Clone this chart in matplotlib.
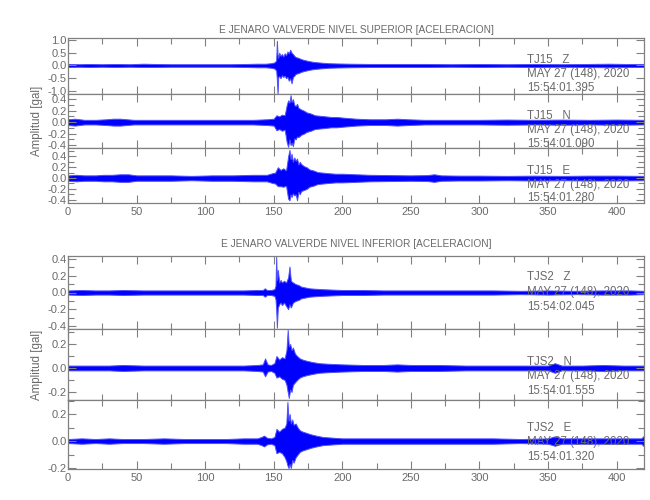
import matplotlib
matplotlib.use("Agg")
import matplotlib.pyplot as plt
from matplotlib.ticker import MultipleLocator, FormatStrFormatter

plt.rcParams['font.family'] = ['Liberation Sans', 'DejaVu Sans']

# ---------------- data (envelopes) ----------------
titles = ["E JENARO VALVERDE NIVEL SUPERIOR [ACELERACION]",
          "E JENARO VALVERDE NIVEL INFERIOR [ACELERACION]"]
stations = ["TJ15   Z", "TJ15   N", "TJ15   E", "TJS2   Z", "TJS2   N", "TJS2   E"]
date_label = "MAY 27 (148), 2020"
start_times = ["15:54:01.395", "15:54:01.090", "15:54:01.280",
               "15:54:02.045", "15:54:01.555", "15:54:01.320"]
xticks = [0, 50, 100, 150, 200, 250, 300, 350, 400]

t_tj15z = [0, 8, 15, 25, 35, 45, 55, 62, 75, 90, 105, 118, 130, 138, 144, 148, 150.5, 151.8, 152.3, 152.8,
           153.3, 154, 155, 156, 157, 158, 159, 160, 161, 162, 163, 164, 165, 166, 168, 170, 172, 175, 178, 181,
           185, 190, 196, 205, 220, 240, 260, 280, 300, 320, 340, 360, 380, 395, 405, 420]
up_tj15z = [0.06, 0.05, 0.06, 0.05, 0.06, 0.05, 0.07, 0.06, 0.05, 0.05, 0.05, 0.05, 0.06, 0.07, 0.07, 0.09, 0.12, 0.20, 0.97, 0.45,
            0.30, 0.50, 0.38, 0.45, 0.35, 0.48, 0.40, 0.55, 0.48, 0.62, 0.50, 0.45, 0.38, 0.33, 0.30, 0.25, 0.22, 0.18, 0.15, 0.13,
            0.11, 0.09, 0.08, 0.07, 0.06, 0.06, 0.06, 0.05, 0.06, 0.05, 0.06, 0.05, 0.06, 0.07, 0.06, 0.06]
lo_tj15z = [-0.06, -0.05, -0.06, -0.05, -0.06, -0.05, -0.06, -0.06, -0.05, -0.05, -0.05, -0.05, -0.06, -0.07, -0.07, -0.09, -0.12, -0.20, -0.55, -1.12,
            -0.45, -0.42, -0.50, -0.38, -0.45, -0.40, -0.50, -0.45, -0.60, -0.50, -0.70, -0.45, -0.40, -0.33, -0.30, -0.25, -0.22, -0.18, -0.15, -0.13,
            -0.11, -0.09, -0.08, -0.07, -0.06, -0.06, -0.06, -0.05, -0.06, -0.05, -0.06, -0.05, -0.06, -0.07, -0.06, -0.06]

t_tj15n = [0, 5, 12, 20, 28, 33, 38, 43, 48, 60, 75, 90, 105, 120, 135, 145, 150, 152, 154, 156,
           158, 159.5, 160.5, 161.5, 162.3, 163, 164, 165, 166, 167, 168, 170, 172, 174, 177, 180, 184, 188, 192, 196,
           200, 205, 210, 220, 232, 240, 248, 260, 280, 300, 320, 340, 360, 380, 400, 420]
up_tj15n = [0.05, 0.06, 0.04, 0.04, 0.05, 0.06, 0.06, 0.05, 0.04, 0.04, 0.04, 0.04, 0.04, 0.04, 0.04, 0.05, 0.06, 0.12, 0.10, 0.13,
            0.12, 0.30, 0.38, 0.34, 0.47, 0.35, 0.40, 0.30, 0.28, 0.32, 0.25, 0.22, 0.20, 0.17, 0.15, 0.12, 0.11, 0.10, 0.09, 0.09,
            0.08, 0.07, 0.06, 0.05, 0.05, 0.06, 0.05, 0.04, 0.04, 0.04, 0.045, 0.04, 0.045, 0.04, 0.045, 0.04]
lo_tj15n = [-0.05, -0.06, -0.04, -0.04, -0.05, -0.06, -0.06, -0.05, -0.04, -0.04, -0.04, -0.04, -0.04, -0.04, -0.04, -0.05, -0.06, -0.14, -0.12, -0.15,
            -0.13, -0.35, -0.43, -0.30, -0.40, -0.36, -0.42, -0.28, -0.30, -0.25, -0.26, -0.22, -0.20, -0.17, -0.15, -0.12, -0.11, -0.10, -0.09, -0.09,
            -0.08, -0.07, -0.06, -0.05, -0.05, -0.06, -0.05, -0.04, -0.04, -0.04, -0.045, -0.04, -0.045, -0.04, -0.045, -0.04]

t_tj15e = [0, 6, 12, 20, 26, 32, 38, 44, 50, 60, 75, 90, 105, 120, 135, 145, 149, 151, 153, 155,
           157, 159, 160.5, 161.5, 162.3, 163, 164, 165, 166, 167, 168, 169, 170, 172, 174, 176, 179, 182, 186, 190,
           195, 200, 210, 220, 235, 250, 262, 267, 272, 285, 300, 320, 340, 360, 380, 400, 420]
up_tj15e = [0.05, 0.06, 0.05, 0.05, 0.06, 0.06, 0.07, 0.07, 0.05, 0.05, 0.05, 0.04, 0.05, 0.05, 0.06, 0.06, 0.09, 0.10, 0.20, 0.15,
            0.18, 0.14, 0.40, 0.52, 0.35, 0.45, 0.30, 0.38, 0.32, 0.36, 0.25, 0.30, 0.26, 0.22, 0.20, 0.16, 0.14, 0.11, 0.10, 0.09,
            0.08, 0.08, 0.07, 0.06, 0.055, 0.05, 0.055, 0.07, 0.05, 0.045, 0.045, 0.04, 0.045, 0.04, 0.045, 0.045, 0.04]
lo_tj15e = [-0.05, -0.06, -0.05, -0.05, -0.06, -0.06, -0.07, -0.07, -0.05, -0.05, -0.05, -0.04, -0.05, -0.05, -0.06, -0.06, -0.09, -0.10, -0.15, -0.15,
            -0.16, -0.14, -0.38, -0.41, -0.30, -0.35, -0.28, -0.32, -0.30, -0.41, -0.25, -0.30, -0.24, -0.22, -0.20, -0.16, -0.14, -0.11, -0.10, -0.09,
            -0.08, -0.08, -0.07, -0.06, -0.055, -0.05, -0.055, -0.07, -0.05, -0.045, -0.045, -0.04, -0.045, -0.04, -0.045, -0.045, -0.04]

t_tjs2z = [0, 10, 20, 30, 40, 55, 70, 85, 100, 115, 128, 138, 142, 143.5, 145, 148, 150.5, 151.3, 151.8, 152.3,
           153, 154, 155, 156, 157.5, 159, 160.5, 161.5, 162.5, 164, 166, 168, 170, 173, 176, 180, 185, 192, 200, 215,
           230, 250, 270, 290, 310, 330, 350, 370, 390, 410, 420]
up_tjs2z = [0.025, 0.03, 0.025, 0.025, 0.03, 0.025, 0.025, 0.025, 0.025, 0.025, 0.025, 0.03, 0.03, 0.05, 0.03, 0.03, 0.04, 0.08, 0.43, 0.15,
            0.27, 0.12, 0.15, 0.12, 0.14, 0.12, 0.18, 0.31, 0.14, 0.12, 0.10, 0.09, 0.07, 0.06, 0.05, 0.045, 0.04, 0.035, 0.03, 0.03,
            0.025, 0.025, 0.025, 0.025, 0.025, 0.02, 0.025, 0.02, 0.025, 0.025, 0.02]
lo_tjs2z = [-0.025, -0.03, -0.025, -0.025, -0.03, -0.025, -0.025, -0.025, -0.025, -0.025, -0.025, -0.03, -0.03, -0.05, -0.03, -0.03, -0.04, -0.08, -0.20, -0.42,
            -0.18, -0.14, -0.12, -0.15, -0.12, -0.16, -0.20, -0.14, -0.18, -0.12, -0.10, -0.09, -0.07, -0.06, -0.05, -0.045, -0.04, -0.035, -0.03, -0.03,
            -0.025, -0.025, -0.025, -0.025, -0.025, -0.02, -0.025, -0.02, -0.025, -0.025, -0.02]

t_tjs2n = [0, 10, 20, 30, 40, 55, 70, 85, 100, 115, 128, 138, 142, 143.7, 145.5, 148, 150.5, 152, 154, 156,
           158, 159.3, 160.2, 161, 162, 163, 164, 165.5, 167, 169, 171, 174, 178, 183, 190, 200, 215, 230, 240, 250,
           270, 290, 310, 330, 350, 355, 360, 375, 390, 405, 420]
up_tjs2n = [0.02, 0.02, 0.02, 0.02, 0.025, 0.02, 0.02, 0.02, 0.02, 0.02, 0.02, 0.025, 0.03, 0.08, 0.03, 0.025, 0.04, 0.10, 0.07, 0.09,
            0.08, 0.15, 0.32, 0.18, 0.20, 0.15, 0.17, 0.12, 0.10, 0.08, 0.07, 0.06, 0.05, 0.04, 0.035, 0.03, 0.025, 0.025, 0.03, 0.025,
            0.025, 0.02, 0.02, 0.02, 0.02, 0.04, 0.02, 0.02, 0.025, 0.02, 0.02]
lo_tjs2n = [-0.02, -0.02, -0.02, -0.02, -0.025, -0.02, -0.02, -0.02, -0.02, -0.02, -0.02, -0.025, -0.03, -0.07, -0.03, -0.025, -0.04, -0.08, -0.07, -0.09,
            -0.10, -0.14, -0.20, -0.25, -0.18, -0.20, -0.14, -0.12, -0.10, -0.08, -0.07, -0.06, -0.05, -0.04, -0.035, -0.03, -0.025, -0.025, -0.03, -0.025,
            -0.025, -0.02, -0.02, -0.02, -0.02, -0.04, -0.02, -0.02, -0.025, -0.02, -0.02]

t_tjs2e = [0, 10, 20, 30, 40, 55, 70, 85, 100, 115, 128, 138, 141, 143, 145, 148, 150.5, 152, 154, 156,
           158, 159.2, 160, 160.8, 161.6, 162.5, 163.5, 164.5, 166, 167.5, 169, 171, 174, 177, 181, 186, 193, 200, 215, 230,
           250, 270, 290, 310, 330, 350, 355, 360, 375, 390, 405, 418, 420]
up_tjs2e = [0.015, 0.02, 0.015, 0.02, 0.015, 0.015, 0.02, 0.015, 0.015, 0.015, 0.02, 0.02, 0.03, 0.04, 0.025, 0.02, 0.03, 0.09, 0.07, 0.09,
            0.10, 0.13, 0.29, 0.15, 0.20, 0.13, 0.16, 0.12, 0.13, 0.10, 0.08, 0.07, 0.06, 0.05, 0.04, 0.03, 0.025, 0.02, 0.02, 0.02,
            0.02, 0.02, 0.02, 0.02, 0.015, 0.02, 0.035, 0.02, 0.02, 0.02, 0.02, 0.02, 0.04]
lo_tjs2e = [-0.015, -0.02, -0.015, -0.02, -0.015, -0.015, -0.02, -0.015, -0.015, -0.015, -0.02, -0.02, -0.03, -0.04, -0.025, -0.02, -0.03, -0.09, -0.08, -0.09,
            -0.12, -0.15, -0.18, -0.20, -0.17, -0.20, -0.14, -0.16, -0.12, -0.10, -0.08, -0.07, -0.06, -0.05, -0.04, -0.03, -0.025, -0.02, -0.02, -0.02,
            -0.02, -0.02, -0.02, -0.02, -0.015, -0.02, -0.035, -0.02, -0.02, -0.02, -0.02, -0.02, -0.04]

traces = [(t_tj15z, up_tj15z, lo_tj15z), (t_tj15n, up_tj15n, lo_tj15n), (t_tj15e, up_tj15e, lo_tj15e),
          (t_tjs2z, up_tjs2z, lo_tjs2z), (t_tjs2n, up_tjs2n, lo_tjs2n), (t_tjs2e, up_tjs2e, lo_tjs2e)]

# ---------------- layout ----------------
W, H = 650, 500
fig = plt.figure(figsize=(6.5, 5.0), dpi=100)
grey = '#808080'
textc = '#6a6a6a'
blue = '#0000ff'

x_left, x_right = 68, 644
panels = [
    (38, 94, (-1.12, 1.08), 0.5, 0.5),
    (94, 148, (-0.45, 0.49), 0.2, 0.1),
    (148, 203, (-0.46, 0.555), 0.2, 0.1),
    (256, 329, (-0.436, 0.436), 0.2, 0.1),
    (329, 400, (-0.267, 0.325), 0.2, 0.1),
    (400, 469, (-0.207, 0.304), 0.2, 0.1),
]
text_y = [(60, 74, 88), (116, 130, 144), (171, 185, 198),
          (277, 292, 307), (362, 376, 391), (428, 442, 457)]

fs_tick = 8
fs_ann = 8.3
fs_title = 7.3
for i, (ptop, pbot, ylim, maj, mnr) in enumerate(panels):
    ax = fig.add_axes([x_left / W, 1 - pbot / H, (x_right - x_left) / W, (pbot - ptop) / H])
    t, up, lo = traces[i]
    ax.fill_between(t, lo, up, facecolor=blue, linewidth=0.7, edgecolor='#5050ff')
    ax.set_xlim(0, 420)
    ax.set_ylim(*ylim)
    for s in ax.spines.values():
        s.set_color(grey)
        s.set_linewidth(0.9)
    ax.xaxis.set_major_locator(MultipleLocator(50))
    ax.xaxis.set_minor_locator(MultipleLocator(25))
    ax.yaxis.set_major_locator(MultipleLocator(maj))
    ax.yaxis.set_minor_locator(MultipleLocator(mnr))
    ax.yaxis.set_major_formatter(FormatStrFormatter('%.1f'))
    ax.tick_params(which='both', direction='in', top=True, right=True, color=grey,
                   labelcolor=textc, labelsize=fs_tick, width=0.8)
    ax.tick_params(which='major', length=5.5)
    ax.tick_params(which='minor', length=4)
    ax.tick_params(axis='y', pad=1)
    if i in (2, 5):
        ax.set_xticks(xticks)
        ax.tick_params(axis='x', pad=3)
    else:
        ax.tick_params(axis='x', labelbottom=False)
    if i in (1, 4):
        ax.set_ylabel("Amplitud [gal]", color=textc, fontsize=fs_ann, labelpad=3)
    ya, yb, yc = text_y[i]
    fig.text(527 / W, 1 - ya / H, stations[i], color=textc, fontsize=fs_ann, va='center', ha='left')
    fig.text(527 / W, 1 - yb / H, date_label, color=textc, fontsize=fs_ann, va='center', ha='left')
    fig.text(527 / W, 1 - yc / H, start_times[i], color=textc, fontsize=fs_ann, va='center', ha='left')

fig.text(356 / W, 1 - 30 / H, titles[0], color=textc, fontsize=fs_title, ha='center', va='center')
fig.text(356 / W, 1 - 244 / H, titles[1], color=textc, fontsize=fs_title, ha='center', va='center')

fig.savefig("out.png", dpi=100, facecolor='white')
